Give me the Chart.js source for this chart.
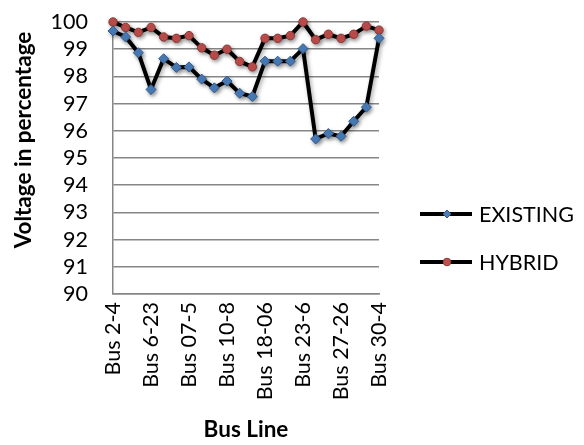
<!DOCTYPE html>
<html>
<head>
<meta charset="utf-8">
<script src="https://cdn.jsdelivr.net/npm/chart.js@4.4.1/dist/chart.umd.min.js"></script>
<style>
  html, body { margin: 0; padding: 0; background: #fff; }
  #wrap { width: 584px; height: 445px; position: relative; }
</style>
</head>
<body>
<div id="wrap"><canvas id="c" width="584" height="445"></canvas></div>
<script>
// Bus lines along the x axis (every third one is labelled)
const busLines = [
  'Bus 2-4', 'Bus 3-4', 'Bus 5-2', 'Bus 6-23', 'Bus 6-7', 'Bus 06-9',
  'Bus 07-5', 'Bus 8-6', 'Bus 9-11', 'Bus 10-8', 'Bus 12-4', 'Bus 15-12',
  'Bus 18-06', 'Bus 19-18', 'Bus 20-19', 'Bus 23-6', 'Bus 24-23', 'Bus 25-24',
  'Bus 27-26', 'Bus 28-27', 'Bus 29-27', 'Bus 30-4'
];

// Voltage (%) per bus line
const existing = [
  99.67, 99.45, 98.87, 97.52, 98.65, 98.33, 98.35, 97.90, 97.58, 97.83, 97.38,
  97.26, 98.56, 98.56, 98.56, 99.02, 95.70, 95.90, 95.80, 96.35, 96.87, 99.40
];
const hybrid = [
  100.0, 99.80, 99.62, 99.80, 99.45, 99.40, 99.50, 99.05, 98.78, 99.00, 98.55,
  98.35, 99.40, 99.40, 99.50, 100.0, 99.35, 99.55, 99.40, 99.55, 99.85, 99.70
];

const yTicks = { min: 90, max: 100, step: 1 };

const FONT = 'Lato, "Liberation Sans", sans-serif';

// Soft drop shadow under each series
const shadowPlugin = {
  id: 'seriesShadow',
  beforeDatasetDraw(chart) {
    const ctx = chart.ctx;
    ctx.save();
    ctx.shadowColor = 'rgba(0,0,0,0.35)';
    ctx.shadowBlur = 4;
    ctx.shadowOffsetX = 1.5;
    ctx.shadowOffsetY = 2;
  },
  afterDatasetDraw(chart) {
    chart.ctx.restore();
  }
};

// Vertical axis title, placed a little above the plot's middle
const yTitle = {
  id: 'yTitle',
  afterDraw(chart) {
    const ctx = chart.ctx;
    ctx.save();
    ctx.translate(24, 140);
    ctx.rotate(-Math.PI / 2);
    ctx.fillStyle = '#000';
    ctx.font = 'bold 22.5px ' + FONT;
    ctx.textAlign = 'center';
    ctx.textBaseline = 'middle';
    ctx.fillText('Voltage in percentage', 0, 0);
    ctx.restore();
  }
};

// Legend on the right: line segment with marker, then the series name
const sideLegend = {
  id: 'sideLegend',
  afterDraw(chart) {
    const ctx = chart.ctx;
    const rows = [214, 262];
    chart.data.datasets.forEach((ds, i) => {
      const y = rows[i];
      ctx.save();
      ctx.strokeStyle = ds.borderColor;
      ctx.lineWidth = ds.borderWidth;
      ctx.beginPath();
      ctx.moveTo(420, y);
      ctx.lineTo(472, y);
      ctx.stroke();
      const r = ds.pointStyle === 'rectRot' ? 4 : 3.8;
      const cx = 447;
      ctx.fillStyle = ds.pointBackgroundColor;
      ctx.strokeStyle = ds.pointBorderColor;
      ctx.lineWidth = 1;
      ctx.beginPath();
      if (ds.pointStyle === 'rectRot') {
        ctx.moveTo(cx, y - r); ctx.lineTo(cx + r, y);
        ctx.lineTo(cx, y + r); ctx.lineTo(cx - r, y);
        ctx.closePath();
      } else {
        ctx.arc(cx, y, r, 0, Math.PI * 2);
      }
      ctx.fill();
      ctx.stroke();
      ctx.fillStyle = '#000';
      ctx.font = '21.5px ' + FONT;
      ctx.textAlign = 'left';
      ctx.textBaseline = 'middle';
      ctx.fillText(ds.label, 479, y + 1);
      ctx.restore();
    });
  }
};

new Chart(document.getElementById('c'), {
  type: 'line',
  data: {
    labels: busLines,
    datasets: [
      {
        label: 'EXISTING',
        data: existing,
        borderColor: '#000',
        borderWidth: 4,
        pointStyle: 'rectRot',
        pointRadius: 5,
        pointBackgroundColor: '#4A7EBB',
        pointBorderColor: '#2F5A8C',
        pointBorderWidth: 1,
        tension: 0,
        clip: false
      },
      {
        label: 'HYBRID',
        data: hybrid,
        borderColor: '#000',
        borderWidth: 4,
        pointStyle: 'circle',
        pointRadius: 4.2,
        pointBackgroundColor: '#C0504D',
        pointBorderColor: '#8C3836',
        pointBorderWidth: 1,
        tension: 0,
        clip: false
      }
    ]
  },
  options: {
    responsive: false,
    animation: false,
    layout: { padding: { left: 0, right: 205, top: 22, bottom: 0 } },
    plugins: {
      legend: { display: false },
      tooltip: { enabled: false }
    },
    scales: {
      x: {
        type: 'category',
        offset: false,
        afterFit(scale) { scale.height = 151; },
        grid: { display: false, drawTicks: false },
        border: { display: true, color: '#868686', width: 1.5 },
        ticks: {
          autoSkip: false,
          minRotation: 90,
          maxRotation: 90,
          padding: 8,
          color: '#000',
          font: { family: FONT, size: 21.5 },
          callback(value, index) {
            return index % 3 === 0 ? this.getLabelForValue(value) : '';
          }
        },
        title: {
          display: true,
          text: 'Bus Line',
          color: '#000',
          font: { family: FONT, size: 22.5, weight: 'bold' },
          padding: { top: 0, bottom: 2 }
        }
      },
      y: {
        min: yTicks.min,
        max: yTicks.max,
        afterFit(scale) { scale.width = 113; },
        grid: {
          color: '#868686',
          lineWidth: 1.5,
          drawTicks: true,
          tickLength: 22,
          tickColor: 'rgba(0,0,0,0)'
        },
        border: { display: true, color: '#868686', width: 1.5 },
        ticks: {
          stepSize: yTicks.step,
          autoSkip: false,
          padding: 3,
          color: '#000',
          font: { family: FONT, size: 21.5 }
        }
      }
    }
  },
  plugins: [shadowPlugin, yTitle, sideLegend]
});
</script>
</body>
</html>
